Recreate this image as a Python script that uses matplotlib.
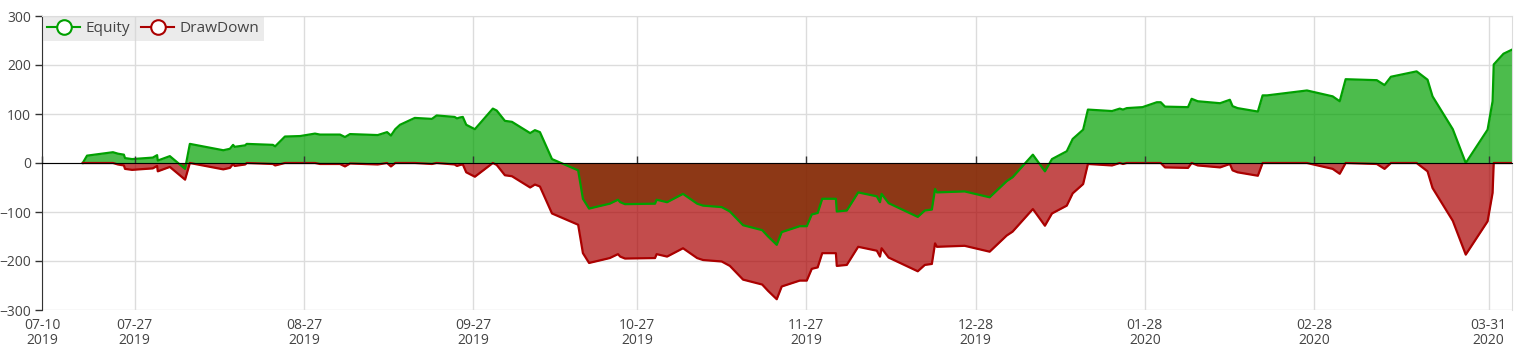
import numpy as np
import pandas as pd
import matplotlib
matplotlib.use("Agg")
import matplotlib.pyplot as plt
from matplotlib.lines import Line2D

plt.rcParams['font.family'] = ['Open Sans', 'DejaVu Sans']

# trade timestamps
trade_times = [
    "2019-07-17 11:00", "2019-07-18 06:00", "2019-07-23 00:00", "2019-07-23 22:00", "2019-07-25 00:00",
    "2019-07-25 05:00", "2019-07-26 12:00", "2019-07-30 07:00", "2019-07-31 02:00", "2019-07-31 05:00",
    "2019-08-02 10:00", "2019-08-05 05:00", "2019-08-06 02:00", "2019-08-12 05:00", "2019-08-13 10:00",
    "2019-08-14 00:00", "2019-08-14 07:00", "2019-08-16 05:00", "2019-08-16 12:00", "2019-08-21 07:00",
    "2019-08-21 17:00", "2019-08-23 12:00", "2019-08-26 07:00", "2019-08-29 00:00", "2019-08-29 22:00",
    "2019-09-02 14:00", "2019-09-03 12:00", "2019-09-04 10:00", "2019-09-09 12:00", "2019-09-11 05:00",
    "2019-09-11 22:00", "2019-09-12 17:00", "2019-09-13 14:00", "2019-09-16 07:00", "2019-09-19 10:00",
    "2019-09-20 07:00", "2019-09-23 14:00", "2019-09-24 00:00", "2019-09-24 14:00", "2019-09-25 02:00",
    "2019-09-25 17:00", "2019-09-27 07:00", "2019-09-30 14:00", "2019-10-01 07:00", "2019-10-02 19:00",
    "2019-10-04 02:00", "2019-10-07 10:00", "2019-10-08 07:00", "2019-10-09 05:00", "2019-10-11 10:00",
    "2019-10-16 05:00", "2019-10-17 02:00", "2019-10-18 05:00", "2019-10-22 00:00", "2019-10-23 12:00",
    "2019-10-23 22:00", "2019-10-24 19:00", "2019-10-30 07:00", "2019-10-30 14:00", "2019-11-01 12:00",
    "2019-11-04 10:00", "2019-11-07 00:00", "2019-11-08 02:00", "2019-11-11 12:00", "2019-11-13 00:00",
    "2019-11-15 10:00", "2019-11-18 22:00", "2019-11-20 00:00", "2019-11-21 14:00", "2019-11-22 12:00",
    "2019-11-25 19:00", "2019-11-27 02:00", "2019-11-28 00:00", "2019-11-29 02:00", "2019-11-29 22:00",
    "2019-12-02 10:00", "2019-12-02 14:00", "2019-12-04 10:00", "2019-12-06 12:00", "2019-12-09 22:00",
    "2019-12-10 12:00", "2019-12-10 19:00", "2019-12-12 02:00", "2019-12-17 10:00", "2019-12-18 17:00",
    "2019-12-20 00:00", "2019-12-20 14:00", "2019-12-20 22:00", "2019-12-26 00:00", "2019-12-30 14:00",
    "2020-01-02 17:00", "2020-01-03 19:00", "2020-01-07 12:00", "2020-01-09 17:00", "2020-01-11 00:00",
    "2020-01-13 17:00", "2020-01-14 19:00", "2020-01-16 17:00", "2020-01-17 14:00", "2020-01-22 00:00",
    "2020-01-23 10:00", "2020-01-24 00:00", "2020-01-24 17:00", "2020-01-27 14:00", "2020-01-30 05:00",
    "2020-01-30 22:00", "2020-01-31 17:00", "2020-02-04 22:00", "2020-02-05 14:00", "2020-02-06 17:00",
    "2020-02-10 19:00", "2020-02-12 14:00", "2020-02-13 02:00", "2020-02-14 00:00", "2020-02-17 17:00",
    "2020-02-18 14:00", "2020-02-19 10:00", "2020-02-26 17:00", "2020-03-02 10:00", "2020-03-03 17:00",
    "2020-03-04 19:00", "2020-03-10 12:00", "2020-03-11 22:00", "2020-03-13 02:00", "2020-03-17 19:00",
    "2020-03-19 19:00", "2020-03-20 17:00", "2020-03-24 10:00", "2020-03-26 19:00", "2020-03-30 19:00",
    "2020-03-31 17:00", "2020-03-31 22:00", "2020-04-02 17:00", "2020-04-04 05:00",
]

equity = [
    0, 15, 22, 19, 17, 10, 8, 11, 16, 5,
    14, -12, 39, 26, 29, 37, 33, 36, 39, 37,
    34, 54, 55, 60, 58, 58, 53, 59, 57, 63,
    56, 69, 78, 92, 90, 97, 94, 91, 93, 94,
    78, 69, 111, 107, 86, 84, 61, 67, 63, 8,
    -15, -73, -93, -83, -75, -80, -84, -83, -75, -80,
    -63, -83, -87, -90, -99, -127, -137, -150, -167, -141,
    -129, -129, -105, -102, -73, -73, -99, -97, -60, -68,
    -80, -63, -82, -110, -97, -95, -53, -60, -58, -70,
    -37, -29, 17, -17, 8, 24, 49, 68, 109, 106,
    111, 109, 112, 114, 124, 124, 115, 114, 131, 126,
    122, 129, 116, 112, 105, 138, 138, 148, 136, 126,
    171, 169, 159, 176, 187, 170, 136, 69, 0, 68,
    126, 201, 223, 231,
]

drawdown = [
    0, 0, 0, -3, -5, -12, -14, -11, -6, -17,
    -8, -34, 0, -13, -10, -2, -6, -3, 0, -2,
    -5, 0, 0, 0, -2, -2, -7, -1, -3, 0,
    -7, 0, 0, 0, -2, 0, -3, -6, -4, -3,
    -19, -28, 0, -4, -25, -27, -50, -44, -48, -103,
    -126, -184, -204, -194, -186, -191, -195, -194, -186, -191,
    -174, -194, -198, -201, -210, -238, -248, -261, -278, -252,
    -240, -240, -216, -213, -184, -184, -210, -208, -171, -179,
    -191, -174, -193, -221, -208, -206, -164, -171, -169, -181,
    -148, -140, -94, -128, -103, -87, -62, -43, -2, -5,
    0, -2, 0, 0, 0, 0, -9, -10, 0, -5,
    -9, -2, -15, -19, -26, 0, 0, 0, -12, -22,
    0, -2, -12, 0, 0, -17, -51, -118, -187, -119,
    -61, 0, 0, 0,
]

tick_dates = ["2019-07-10", "2019-07-27", "2019-08-27", "2019-09-27", "2019-10-27",
              "2019-11-27", "2019-12-28", "2020-01-28", "2020-02-28", "2020-03-31"]
tick_labels = ["07-10\n2019", "07-27\n2019", "08-27\n2019", "09-27\n2019", "10-27\n2019",
               "11-27\n2019", "12-28\n2019", "01-28\n2020", "02-28\n2020", "03-31\n2020"]
y_ticks = [-300, -200, -100, 0, 100, 200, 300]

X_START = "2019-07-10"
X_END = "2020-04-04 05:00"

GREEN = "#00a000"
RED = "#aa0000"
AXIS = "#333333"
GRID = "#dcdcdc"

t = pd.to_datetime(trade_times)

fig = plt.figure(figsize=(15.22, 3.56), dpi=100)
ax = fig.add_axes([42 / 1522, 1 - 310 / 356, (1511.7 - 42) / 1522, (310 - 16) / 356])

ax.fill_between(t, 0, equity, color=GREEN, alpha=0.7, linewidth=0, zorder=2)
ax.fill_between(t, 0, drawdown, color=RED, alpha=0.7, linewidth=0, zorder=3)
ax.plot(t, equity, color=GREEN, lw=1.6, zorder=5)
ax.plot(t, drawdown, color=RED, lw=1.6, zorder=6)

ax.set_xlim(pd.Timestamp(X_START), pd.Timestamp(X_END))
ax.set_ylim(-300, 300)
ax.set_yticks(y_ticks)
ax.set_xticks(pd.to_datetime(tick_dates))
ax.set_xticklabels(tick_labels)
for lbl in ax.get_xticklabels():
    lbl.set_linespacing(0.95)

ax.set_axisbelow(True)
ax.grid(True, color=GRID, lw=1)
ax.tick_params(axis='x', length=0, pad=6, labelsize=10, labelcolor='#444444')
ax.tick_params(axis='y', length=5, width=1, color=AXIS, pad=3, labelsize=10, labelcolor='#444444')

ax.spines['left'].set_color(AXIS)
ax.spines['bottom'].set_visible(False)
ax.spines['top'].set_color(GRID)
ax.spines['right'].set_color(GRID)

# x axis line sits on zero, with its own tick marks
zero_ax = ax.secondary_xaxis(0.5)
zero_ax.set_xticks(pd.to_datetime(tick_dates))
zero_ax.set_xticklabels([])
zero_ax.tick_params(axis='x', length=5, width=1, color=AXIS, direction='out')
zero_ax.spines['bottom'].set_color(AXIS)
zero_ax.set_zorder(7)

handles = [
    Line2D([], [], color=GREEN, lw=1.5, marker='o', markersize=10.5,
           markerfacecolor='white', markeredgecolor=GREEN, markeredgewidth=1.5),
    Line2D([], [], color=RED, lw=1.5, marker='o', markersize=10.5,
           markerfacecolor='white', markeredgecolor=RED, markeredgewidth=1.5),
]
leg = ax.legend(handles, ["Equity", "DrawDown"], loc='upper left', bbox_to_anchor=(0, 1),
                ncol=2, frameon=True, fancybox=False, facecolor='#d8d8d8', edgecolor='none',
                framealpha=0.5, fontsize=11.1, handlelength=2.1, handletextpad=0.4,
                columnspacing=0.7, borderpad=0.3, borderaxespad=0.05, labelcolor='#444444')
leg.set_zorder(10)

fig.savefig("out.png", dpi=100)
